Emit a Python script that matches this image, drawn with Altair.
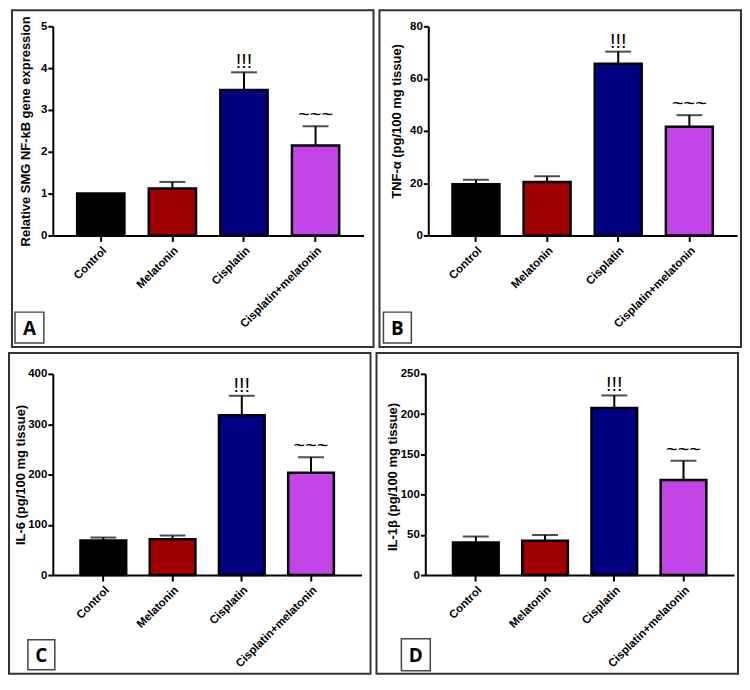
import altair as alt
import pandas as pd

groups = ["Control", "Melatonin", "Cisplatin", "Cisplatin+melatonin"]
colors = ["#000000", "#A00000", "#000080", "#C345E8"]
marks = ["", "", "!!!", "~~~"]

nfkb_mean = [1.0, 1.12, 3.48, 2.15]
nfkb_sem = [0.0, 0.16, 0.42, 0.46]
tnf_mean = [19.6, 20.4, 65.7, 41.6]
tnf_sem = [1.7, 2.2, 4.6, 4.4]
il6_mean = [68.6, 71.3, 317.5, 203.3]
il6_sem = [6.0, 7.2, 38.9, 31.0]
il1b_mean = [40.4, 42.5, 207.5, 118.0]
il1b_sem = [7.5, 7.4, 15.7, 23.9]

FONT = "Liberation Sans"


def panel(mean, sem, ymax, ystep, title, letter, W, H, L, R, T, B,
          titlex, titley, box, pout):
    df = pd.DataFrame({
        "group": groups,
        "mean": mean,
        "upper": [m + s for m, s in zip(mean, sem)],
        "sem": sem,
        "mark": marks,
    })
    base = alt.Chart(df)
    xaxis = alt.Axis(
        title=None, labelAngle=-45, labelFont=FONT, labelFontWeight="bold",
        labelFontSize=11.5, labelColor="black", labelPadding=3,
        domainColor="black", domainWidth=2, tickColor="black",
        tickWidth=2, tickSize=6, labelLimit=200,
    )
    xscale = alt.Scale(paddingInner=0.34, paddingOuter=pout)
    x = alt.X("group:N", sort=groups, scale=xscale, axis=xaxis)
    yscale = alt.Scale(domain=[0, ymax], nice=False, zero=True)
    yaxis = alt.Axis(
        title=title, values=list(range(0, ymax + 1, ystep)), grid=False,
        labelOverlap=False,
        labelFont=FONT, labelFontWeight="bold", labelFontSize=11.5,
        labelColor="black", labelPadding=1, domainColor="black",
        domainWidth=2, tickColor="black", tickWidth=2, tickSize=5,
        titleFont=FONT, titleFontWeight="bold", titleFontSize=13,
        titleColor="black", titleX=titlex, titleY=titley,
        titleBaseline="middle", titleAngle=-90, titleAlign="center",
    )
    ym = alt.Y("mean:Q", scale=yscale, axis=yaxis)
    yu = alt.Y("upper:Q", scale=yscale, axis=yaxis)
    border = base.mark_rect(
        fillOpacity=0, stroke="#333333", strokeWidth=2
    ).encode(
        x=alt.value(-L + 1), x2=alt.value(W + R - 1),
        y=alt.value(-T + 1), y2=alt.value(H + B - 1),
    ).transform_filter(alt.datum.group == "Control")
    err = base.transform_filter(alt.datum.sem > 0)
    rule = err.mark_rule(color="black", strokeWidth=2).encode(
        x=x, y=ym, y2="upper:Q"
    )
    cap = err.mark_tick(color="black", thickness=2, size=26).encode(x=x, y=yu)
    bars = base.mark_bar(stroke="black", strokeWidth=2.5).encode(
        x=x, y=ym,
        color=alt.Color("group:N", sort=groups,
                        scale=alt.Scale(domain=groups, range=colors), legend=None),
    )
    bang = base.transform_filter(alt.datum.mark == "!!!").mark_text(
        font=FONT, fontSize=20, color="black", baseline="alphabetic", dy=-4
    ).encode(x=x, y=yu, text="mark:N")
    tilde = base.transform_filter(alt.datum.mark == "~~~").mark_text(
        font=FONT, fontSize=20, color="black", baseline="alphabetic", dy=-5
    ).encode(x=x, y=yu, text="mark:N")
    bx0, by0, bw, bh = box
    lbox = base.mark_rect(
        fillOpacity=0, stroke="#444444", strokeWidth=1.5
    ).encode(
        x=alt.value(bx0), x2=alt.value(bx0 + bw),
        y=alt.value(by0), y2=alt.value(by0 + bh),
    ).transform_filter(alt.datum.group == "Control")
    ltext = base.mark_text(
        text=letter, font="Open Sans", fontWeight="bold", fontSize=19,
        color="black", align="center", baseline="middle",
    ).encode(
        x=alt.value(bx0 + bw / 2), y=alt.value(by0 + bh / 2 + 1)
    ).transform_filter(alt.datum.group == "Control")
    return alt.layer(border, rule, cap, bars, bang, tilde, lbox, ltext).properties(
        width=W, height=H
    )


pA = panel(nfkb_mean, nfkb_sem, 5, 1, "Relative SMG NF-kB gene expression", "A",
           312, 210, 42, 11, 17, 113, -27, 105, (-38, 287, 29, 31), 0.34)
pB = panel(tnf_mean, tnf_sem, 80, 20, "TNF-α (pg/100 mg tissue)", "B",
           310, 210, 50, 5, 17, 113, -32, 95, (-45, 287, 28, 31), 0.34)
pC = panel(il6_mean, il6_sem, 400, 100, "IL-6 (pg/100 mg tissue)", "C",
           310, 202, 45, 10, 22, 100, -32, 101, (-25, 267, 27, 30), 0.40)
pD = panel(il1b_mean, il1b_sem, 250, 50, "IL-1β (pg/100 mg tissue)", "D",
           310, 202, 50, 5, 22, 100, -33, 103, (-24, 266, 29, 32), 0.40)

chart = alt.vconcat(
    alt.hconcat(pA, pB, spacing=4),
    alt.hconcat(pC, pD, spacing=4),
    spacing=4,
).properties(padding=0).configure_view(stroke=None)

chart.save("out.html", embed_options={"renderer": "svg", "actions": False})
